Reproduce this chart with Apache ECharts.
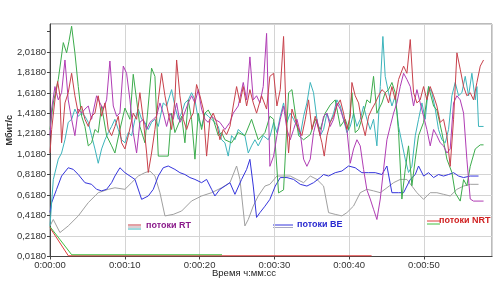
<!DOCTYPE html>
<html><head><meta charset="utf-8">
<script src="https://cdn.jsdelivr.net/npm/echarts@6/dist/echarts.min.js"></script>
<style>html,body{margin:0;padding:0;background:#fff}#c{width:500px;height:289px}</style>
</head><body><div id="c"></div>
<script>
// time in seconds, values in Mbit/s
const rtRedT = [0,0.22,0.66,1.02,1.33,1.55,2.0,2.44,2.89,3.33,3.78,4.23,4.67,5.12,5.56,6.01,6.45,6.9,7.35,7.79,8.24,8.68,9.13,9.57,10.02,10.47,11.13,11.58,12.02,12.47,12.92,13.14,13.58,14.03,14.48,14.92,15.37,15.81,16.26,16.7,16.93,17.37,17.82,18.27,18.71,19.16,19.6,20.05,20.49,20.94,21.38,21.83,22.27,22.72,23.17,23.61,24.06,24.5,24.95,25.4,25.84,26.29,26.73,27.18,27.62,28.29,28.96,29.4,29.9,30.34,30.79,31.23,31.59,31.9,32.35,32.79,33.24,33.68,34.13,34.57,35.02,35.47,35.91,36.36,36.67,37.03,37.47,37.92,38.36,38.81,39.25,39.7,40.15,40.37,40.81,41.26,41.7,42.15,42.6,43.04,43.49,43.93,44.38,44.82,45.27,45.72,46.16,46.61,47.28,47.72,48.17,48.61,49.06,49.5,49.95,50.39,50.84,51.29,51.73,52.18,52.62,53.07,53.51,53.96,54.41,54.85,55.3,55.74,56.19,56.63,57.08,57.53,57.97];
const rtRedV = [1.03,1.26,1.55,1.73,1.59,1.13,1.52,1.62,1.81,1.59,1.42,1.49,1.36,1.29,1.39,1.42,1.59,1.39,1.52,1.26,1.20,1.29,1.39,1.13,1.07,1.20,1.42,1.36,1.62,1.36,1.03,0.84,1.03,1.26,1.55,1.81,1.59,1.42,1.26,1.55,1.94,1.59,1.36,1.26,1.36,1.42,1.70,1.59,1.46,1.00,1.36,1.42,1.33,1.16,1.26,1.21,1.29,1.49,1.68,1.52,1.68,1.49,1.65,1.52,1.42,1.59,1.46,1.78,1.81,1.49,1.65,2.17,1.36,1.03,1.46,1.36,1.26,1.20,1.36,1.55,1.26,1.39,1.26,1.13,1.00,1.20,1.33,1.39,1.49,1.55,1.42,1.26,1.39,1.72,1.59,1.52,1.33,1.20,1.39,1.46,1.52,1.59,1.65,1.62,1.52,1.68,1.55,1.75,1.88,1.81,2.14,1.62,1.52,1.55,1.68,1.55,1.68,1.59,1.49,1.33,1.36,1.20,0.90,1.36,2.01,1.85,1.68,1.59,1.62,1.55,1.72,1.88,1.94];

const rtMagT = [0,0.22,0.66,1.11,1.55,2.0,2.44,2.89,3.33,3.78,4.23,4.67,5.12,5.56,6.23,6.68,7.12,7.57,8.01,8.46,8.91,9.35,9.8,10.24,10.69,11.13,11.58,12.02,12.47,12.92,13.36,13.81,14.25,14.7,15.14,15.59,16.04,16.48,16.93,17.37,17.82,18.49,18.93,19.38,19.82,20.27,20.71,21.16,21.61,22.05,22.72,23.39,24.06,24.5,25.17,25.84,26.29,26.73,27.18,27.62,28.07,28.51,28.96,29.4,29.9,30.34,30.79,31.23,31.68,32.12,32.57,33.02,33.46,33.91,34.35,34.8,35.24,35.69,36.13,36.58,37.03,37.47,37.92,38.36,38.81,39.25,39.7,40.15,40.59,41.04,41.48,41.93,42.37,42.82,43.26,43.71,44.16,44.6,45.05,45.49,45.94,46.38,46.83,47.28,47.72,48.17,48.61,49.06,49.5,49.95,50.39,50.84,51.29,51.73,52.18,52.62,53.07,53.51,53.96,54.41,54.85,55.3,55.74,56.19,56.63,57.97];
const rtMagV = [1.20,1.46,1.68,1.55,1.62,1.94,1.55,1.36,1.20,1.46,1.42,1.46,1.49,1.36,1.59,1.52,1.46,1.55,1.93,1.49,1.39,1.42,1.88,1.81,1.55,1.23,1.03,1.33,1.36,1.26,1.33,1.36,1.39,1.52,1.42,1.29,1.42,1.36,1.52,1.33,1.39,1.52,1.59,1.52,1.65,1.46,1.36,1.33,1.39,1.36,1.33,1.26,1.33,1.42,1.49,1.72,1.55,1.97,1.55,1.59,1.52,1.68,2.20,0.90,1.00,1.20,1.36,1.49,1.26,1.16,1.26,1.36,1.23,0.97,0.90,0.97,1.23,1.36,1.20,1.39,1.42,1.29,1.36,1.52,1.46,1.36,1.26,0.93,1.07,1.16,1.10,0.87,0.67,0.58,0.48,0.38,0.58,0.87,1.16,1.29,1.42,1.52,1.68,1.81,1.75,1.68,1.49,1.65,1.52,1.39,1.26,1.10,1.26,1.20,1.13,1.10,1.03,1.07,1.52,1.59,1.55,1.42,0.97,0.58,0.56,0.56];

const rtTealT = [0,0.44,1.11,1.55,2.0,2.44,2.89,3.33,3.78,4.23,4.67,5.12,5.56,6.01,6.45,6.9,7.35,7.79,8.24,8.68,9.13,9.57,10.02,10.47,10.91,11.36,11.8,12.25,12.69,13.14,13.58,14.03,14.48,15.14,15.59,16.26,16.7,17.15,17.6,18.04,18.49,18.93,19.38,19.82,20.27,20.71,21.16,21.61,22.05,22.5,22.94,23.39,23.83,24.28,24.73,25.17,25.62,26.06,26.51,26.95,27.4,27.84,28.51,29.18,29.45,29.9,30.34,30.79,31.23,31.68,32.12,32.57,33.02,33.46,33.91,34.35,34.8,35.24,35.69,36.13,36.58,37.03,37.47,37.92,38.36,38.81,39.25,39.7,40.15,40.59,41.04,41.48,41.93,42.37,42.82,43.26,43.71,44.16,44.51,44.82,45.27,45.72,46.16,46.61,47.05,47.5,47.94,48.39,48.84,49.28,49.73,50.17,50.62,51.06,51.51,51.95,52.4,52.85,53.29,53.74,54.18,54.63,55.07,55.52,55.97,56.41,56.86,57.08,57.3,57.97];
const rtTealV = [0.32,0.77,0.97,1.03,1.16,1.33,1.36,1.46,1.39,1.42,1.39,1.33,1.20,1.07,0.93,1.07,1.16,1.23,1.29,1.36,1.26,1.16,1.13,1.23,1.20,1.36,1.46,1.36,1.33,1.26,1.33,1.36,1.29,1.52,1.49,1.65,1.49,1.36,1.42,1.52,1.55,1.62,1.55,1.36,1.29,1.42,1.39,1.36,1.33,1.29,1.16,1.13,1.00,1.20,1.16,1.26,1.23,1.20,1.03,1.10,1.16,1.10,1.20,1.16,1.20,1.33,1.23,1.39,1.52,1.33,1.42,1.36,1.29,1.20,1.39,1.52,1.72,1.62,1.36,1.20,1.26,1.42,1.33,1.42,1.55,1.49,1.36,1.23,1.29,1.42,1.29,1.36,1.49,1.36,1.26,1.36,1.10,1.68,2.17,1.78,1.62,1.49,1.59,1.29,1.13,0.97,0.84,0.90,1.20,1.36,1.52,1.36,1.68,1.62,1.46,1.26,1.16,1.13,1.26,1.59,1.72,1.59,1.62,1.78,1.59,1.81,1.55,1.68,1.29,1.29];

const rtGreenT = [0,0.44,1.11,1.78,2.22,2.53,2.89,3.33,3.78,4.23,4.67,5.12,5.56,6.01,6.45,6.9,7.57,8.24,8.68,9.35,10.02,10.69,11.13,11.58,12.02,12.69,13.58,14.03,14.48,15.81,16.26,16.7,17.6,18.04,18.49,18.93,19.38,19.82,20.27,20.71,21.16,21.83,22.5,22.94,23.39,24.28,25.17,26.06,26.95,27.84,28.74,29.4,29.9,30.56,31.23,31.9,32.35,32.79,33.24,33.91,34.8,35.47,36.13,36.8,37.47,38.14,38.81,39.48,39.92,40.37,40.81,41.26,41.93,42.37,42.82,43.26,43.71,44.38,44.82,45.27,45.72,46.16,46.61,47.05,47.5,47.94,48.39,48.84,49.28,49.95,50.62,51.29,51.73,52.4,53.07,53.74,54.18,54.85,55.3,55.74,56.19,56.86,57.53,57.97];
const rtGreenV = [1.26,1.52,1.75,2.11,2.01,2.12,2.27,2.01,1.68,1.39,1.29,1.10,1.13,1.26,1.23,1.49,1.20,1.10,1.03,1.26,1.47,1.36,1.80,1.55,1.29,1.13,1.86,1.78,1.00,1.00,1.42,1.23,1.39,1.13,1.55,1.36,0.97,1.42,1.26,1.42,1.45,1.36,1.20,1.23,1.16,1.13,1.23,1.20,1.36,1.16,1.23,1.39,1.36,0.64,0.67,1.62,1.65,1.42,1.20,1.16,1.21,1.36,1.26,1.42,1.50,1.55,1.29,1.36,1.26,1.62,1.23,1.26,1.42,1.55,1.52,1.78,1.42,1.52,1.62,1.65,1.72,1.62,1.23,0.58,0.87,1.10,0.71,0.97,1.20,1.33,1.68,1.49,1.45,1.23,0.97,0.84,0.64,0.56,0.77,0.71,0.90,1.07,1.11,1.11];

const beBlueT = [0,0.22,0.88,1.55,2.44,3.11,3.78,4.67,5.56,6.23,6.9,7.57,8.24,8.68,9.35,10.02,10.69,11.36,12.25,13.14,13.81,14.48,15.14,15.81,16.7,17.37,18.04,18.71,19.38,20.27,20.94,21.61,22.05,22.72,23.39,24.06,24.73,25.62,26.29,26.73,27.18,27.62,28.07,28.74,29.4,30.12,30.79,31.68,32.57,33.46,34.35,35.24,36.13,36.58,37.25,38.14,39.03,39.92,40.81,41.7,42.6,43.49,44.38,45.05,45.72,46.61,47.28,48.17,48.84,49.28,49.95,50.62,51.29,51.95,52.62,53.29,53.96,54.63,55.3,56.19,57.3];
const beBlueV = [0.45,0.545,0.675,0.805,0.886,0.87,0.82,0.74,0.724,0.675,0.66,0.675,0.74,0.805,0.886,0.838,0.805,0.772,0.577,0.61,0.675,0.805,0.886,0.903,0.87,0.838,0.82,0.79,0.772,0.74,0.772,0.675,0.61,0.675,0.707,0.74,0.626,0.772,0.87,0.968,0.707,0.40,0.447,0.51,0.577,0.707,0.79,0.79,0.772,0.724,0.707,0.74,0.79,0.82,0.805,0.838,0.854,0.903,0.886,0.838,0.838,0.838,0.82,0.903,0.642,0.642,0.642,0.772,0.82,0.903,0.805,0.838,0.79,0.82,0.805,0.82,0.838,0.805,0.79,0.805,0.805];

const beGrayT = [0,0.44,1.33,2.44,3.78,5.12,6.45,7.79,8.68,10.02,10.91,11.8,12.69,13.36,14.03,14.7,15.37,16.48,17.6,18.93,20.27,21.61,22.94,24.06,24.95,25.4,26.06,26.51,27.18,27.84,28.74,29.4,30.34,31.23,32.12,33.02,33.91,34.8,35.69,36.58,37.25,38.14,39.03,39.7,40.59,41.48,42.37,43.26,44.16,45.05,45.94,46.83,47.72,48.39,49.06,49.95,50.84,51.73,52.62,53.51,54.41,55.3,56.19,57.3];
const beGrayV = [0.317,0.38,0.252,0.317,0.415,0.545,0.642,0.675,0.69,0.675,0.74,0.805,0.838,0.854,0.805,0.642,0.415,0.43,0.463,0.561,0.61,0.642,0.69,0.74,0.903,0.772,0.317,0.38,0.512,0.61,0.707,0.724,0.805,0.805,0.805,0.772,0.74,0.805,0.772,0.707,0.447,0.43,0.415,0.447,0.512,0.642,0.675,0.66,0.642,0.69,0.74,0.772,0.772,0.707,0.642,0.577,0.642,0.642,0.626,0.61,0.675,0.707,0.724,0.724];

const nrtRedT = [0,2.45,43.0];
const nrtRedV = [0.30,0.025,0.025];
const nrtGreenT = [0,2.9,23.0];
const nrtGreenV = [0.31,0.035,0.035];

const yMin = 0.018, yMax = 2.292, yStep = 0.2;
const xMin = 0, xMax = 59.1, xStep = 10;
const legendRT = 'потоки RT', legendBE = 'потоки BE', legendNRT = 'потоки NRT';
const yName = 'Мбит/с', xName = 'Время ч:мм:сс';

const pair = (t, v) => t.map((x, i) => [x, v[i]]);
const FONT = '"Liberation Sans Narrow","Liberation Sans",Arial,sans-serif';

const C = {red:'#c8414b', mag:'#b03cb4', teal:'#3cb4bc', green:'#3cac4c', blue:'#3434dc', gray:'#a0a0a0', nred:'#e03c3c', ngreen:'#40c040'};

const mk = (name, data, color) => ({type:'line', name, data, showSymbol:false, symbol:'none', lineStyle:{width:1, color}, itemStyle:{color}, animation:false, silent:true});

const gridColors = [];
for (let i = 0; i < 11; i++) gridColors.push('#d4d4d4');
gridColors.push('rgba(0,0,0,0)', '#d4d4d4');

const fmtTime = v => { const s = Math.round(v); return '0:00:' + (s < 10 ? '0' + s : s); };

const chart = echarts.init(document.getElementById('c'), null, {renderer:'canvas'});
chart.setOption({
  animation:false,
  backgroundColor:'#fff',
  grid:{left:50, right:8, top:24, bottom:32.5, show:true, borderColor:'#777', borderWidth:1, containLabel:false},
  xAxis:{type:'value', min:xMin, max:xMax, interval:xStep,
    axisLine:{show:true, lineStyle:{color:'#444', width:1}},
    axisTick:{show:true, length:3, lineStyle:{color:'#444'}},
    axisLabel:{fontFamily:FONT, fontSize:9.5, color:'#333', margin:4, showMaxLabel:false,
      formatter:v => v > 55 ? '' : fmtTime(v)},
    splitLine:{show:true, lineStyle:{color:'#d4d4d4', width:1}}},
  yAxis:{type:'value', min:yMin, max:yMax, interval:yStep,
    axisLine:{show:true, lineStyle:{color:'#444', width:1}},
    axisTick:{show:true, length:3, lineStyle:{color:'#444'}},
    axisLabel:{fontFamily:FONT, fontSize:9.5, color:'#333', margin:4, showMaxLabel:false,
      formatter:v => v > 2.1 ? '' : v.toFixed(4).replace('.', ',')},
    splitLine:{show:true, lineStyle:{color:gridColors, width:1}}},
  graphic:[
    {type:'text', left:5, top:115, rotation:Math.PI/2, style:{text:yName, font:'bold 9px ' + FONT, fill:'#333'}},
    {type:'text', left:212, top:268, style:{text:xName, font:'9.5px ' + FONT, fill:'#222'}},
    {type:'line', shape:{x1:128, y1:225, x2:141, y2:225}, style:{stroke:C.red, lineWidth:1}},
    {type:'line', shape:{x1:128, y1:227, x2:141, y2:227}, style:{stroke:'#b8a0a8', lineWidth:1}},
    {type:'line', shape:{x1:128, y1:229, x2:141, y2:229}, style:{stroke:C.teal, lineWidth:1}},
    {type:'text', left:146, top:221, style:{text:legendRT, font:'bold 9px ' + FONT, fill:'#8a1a8a'}},
    {type:'line', shape:{x1:273, y1:225, x2:293, y2:225}, style:{stroke:C.blue, lineWidth:1}},
    {type:'line', shape:{x1:273, y1:227.5, x2:293, y2:227.5}, style:{stroke:'#a8a8c0', lineWidth:1}},
    {type:'text', left:297, top:220, style:{text:legendBE, font:'bold 9px ' + FONT, fill:'#2a2ad0'}},
    {type:'line', shape:{x1:427, y1:221, x2:440, y2:221}, style:{stroke:C.nred, lineWidth:1}},
    {type:'line', shape:{x1:427, y1:224, x2:440, y2:224}, style:{stroke:C.ngreen, lineWidth:1}},
    {type:'text', left:439, top:216, style:{text:legendNRT, font:'bold 9px ' + FONT, fill:'#d02020'}}
  ],
  series:[
    mk('beGray', pair(beGrayT, beGrayV), C.gray),
    mk('beBlue', pair(beBlueT, beBlueV), C.blue),
    mk('rtTeal', pair(rtTealT, rtTealV), C.teal),
    mk('rtGreen', pair(rtGreenT, rtGreenV), C.green),
    mk('rtMag', pair(rtMagT, rtMagV), C.mag),
    mk('rtRed', pair(rtRedT, rtRedV), C.red),
    mk('nrtRed', pair(nrtRedT, nrtRedV), C.nred),
    mk('nrtGreen', pair(nrtGreenT, nrtGreenV), C.ngreen)
  ]
});
</script></body></html>
